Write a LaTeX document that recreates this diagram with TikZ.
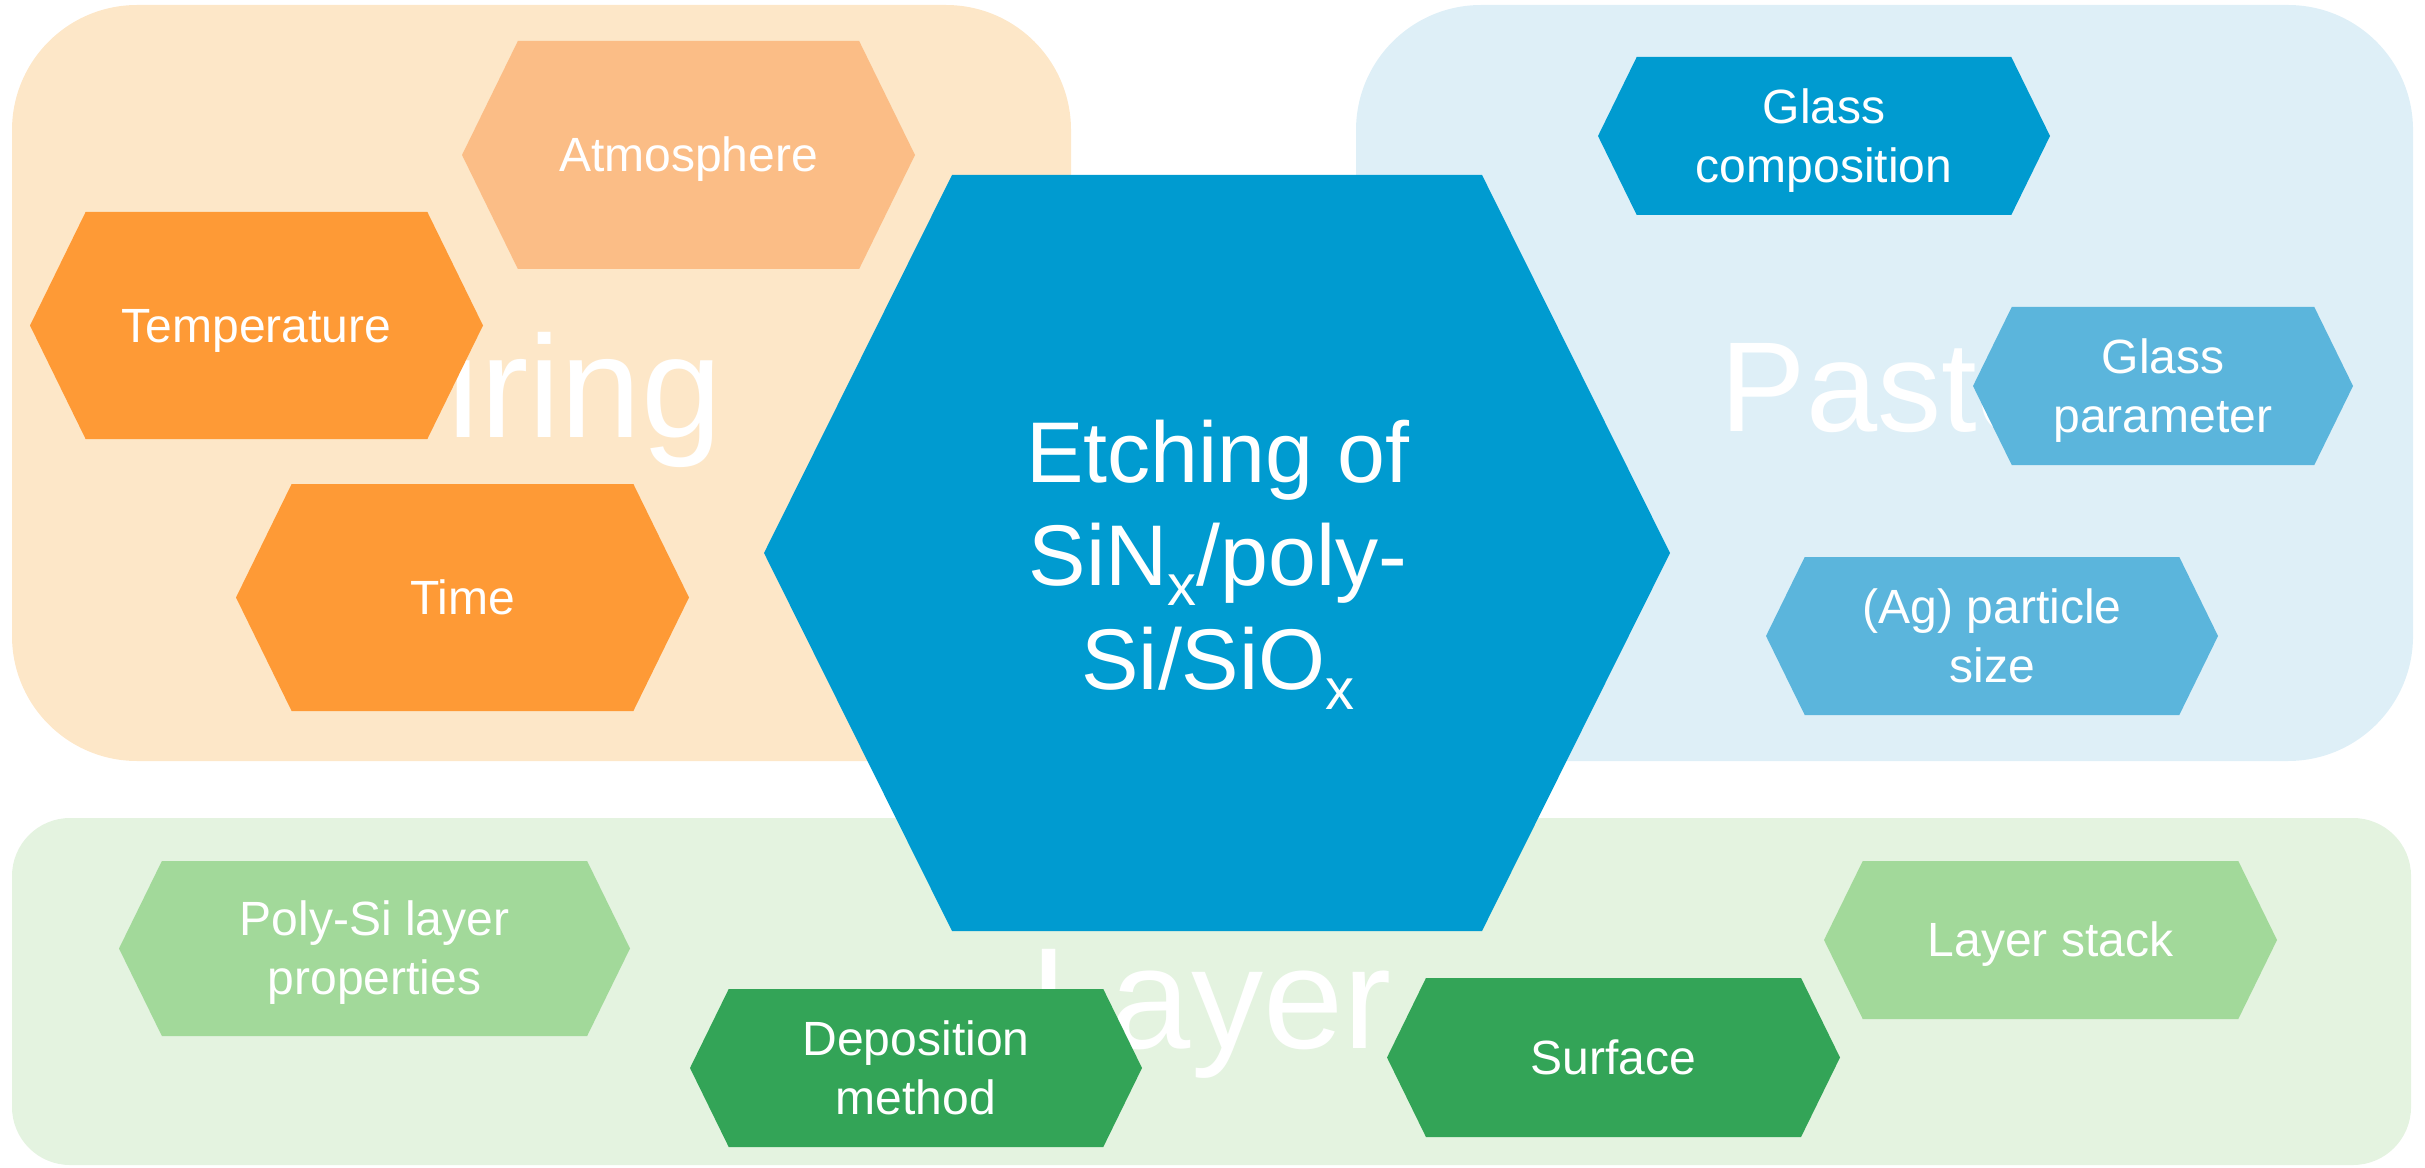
\documentclass[tikz,border=0pt]{standalone}
\usepackage{fontspec}
\setmainfont{Liberation Sans}
\definecolor{firebg}{HTML}{FDE7C8}
\definecolor{pastebg}{HTML}{DEEFF7}
\definecolor{layerbg}{HTML}{E4F3E0}
\definecolor{hexlorange}{HTML}{FBBD86}
\definecolor{hexorange}{HTML}{FE9A36}
\definecolor{hexblue}{HTML}{009BD0}
\definecolor{hexlblue}{HTML}{5BB5DC}
\definecolor{hexlgreen}{HTML}{A2D99A}
\definecolor{hexgreen}{HTML}{33A457}
\newcommand\sbx{\raisebox{-0.2cm}{\fontsize{16.5pt}{16.5pt}\selectfont x}}
\newcommand\hstrut{\vrule height .905em depth .212em width 0pt\relax}
% name, left x, right x, top y, bottom y, fill, text
\newcommand\hexnode[7]{%
  \fill[#6] (#2,{(#4+#5)/2}) -- ({#2+0.49*(#5-#4)/2},#4) -- ({#3-0.49*(#5-#4)/2},#4)
    -- (#3,{(#4+#5)/2}) -- ({#3-0.49*(#5-#4)/2},#5) -- ({#2+0.49*(#5-#4)/2},#5) -- cycle;
  \node[smalltext] (#1) at ({(#2+#3)/2},{(#4+#5)/2}) {\hstrut#7\hstrut};}
\tikzset{
  smalltext/.style={font=\fontsize{13.66pt}{16.8pt}\selectfont, text=white, align=center, inner sep=0pt},
  biglabel/.style={text=white, inner sep=0pt},
}
\begin{document}
\begin{tikzpicture}[x=0.01cm,y=-0.01cm]
\useasboundingbox (0,0) rectangle (2425,1167);
% panels
\fill[firebg, rounded corners=1.25cm] (12,5) rectangle (1071,761);
\fill[pastebg, rounded corners=1.25cm] (1356,5) rectangle (2413,761);
\fill[layerbg, rounded corners=0.58cm] (12,818) rectangle (2411,1165);
% faded panel titles
\node[biglabel, font=\fontsize{41.3pt}{41.3pt}\selectfont, anchor=base east] (firing) at (723,437) {Firing};
\node[biglabel, font=\fontsize{36.4pt}{36.4pt}\selectfont, anchor=base west] (paste) at (1720,431) {Paste};
\node[biglabel, font=\fontsize{41pt}{41pt}\selectfont, anchor=base west] (layer) at (1030,1048) {Layer};
% firing hexagons
\hexnode{atm}{462}{915}{41}{269}{hexlorange}{Atmosphere}
\hexnode{temp}{30}{483}{212}{439}{hexorange}{Temperature}
\hexnode{time}{236}{689}{484}{711}{hexorange}{Time}
% central hexagon
\fill[hexblue] (764,553) -- (952,175) -- (1482,175) -- (1670,553) -- (1482,931) -- (952,931) -- cycle;
\node[text=white, inner sep=0pt, align=center, anchor=base, font=\fontsize{24.5pt}{29.3pt}\selectfont] (etch) at (1218,689) {Etching of\\SiN\sbx/poly-\\Si/SiO\sbx};
% paste hexagons
\hexnode{gcomp}{1598}{2050}{57}{215}{hexblue}{Glass\\composition}
\hexnode{gpar}{1973}{2353}{307}{465}{hexlblue}{Glass\\parameter}
\hexnode{ag}{1766}{2218}{557}{715}{hexlblue}{(Ag) particle\\size}
% layer hexagons
\hexnode{poly}{119}{630}{861}{1036}{hexlgreen}{Poly-Si layer\\properties}
\hexnode{dep}{690}{1142}{989}{1147}{hexgreen}{Deposition\\method}
\hexnode{surf}{1387}{1840}{978}{1137}{hexgreen}{Surface}
\hexnode{stack}{1824}{2277}{861}{1019}{hexlgreen}{Layer stack}
\end{tikzpicture}
\end{document}
